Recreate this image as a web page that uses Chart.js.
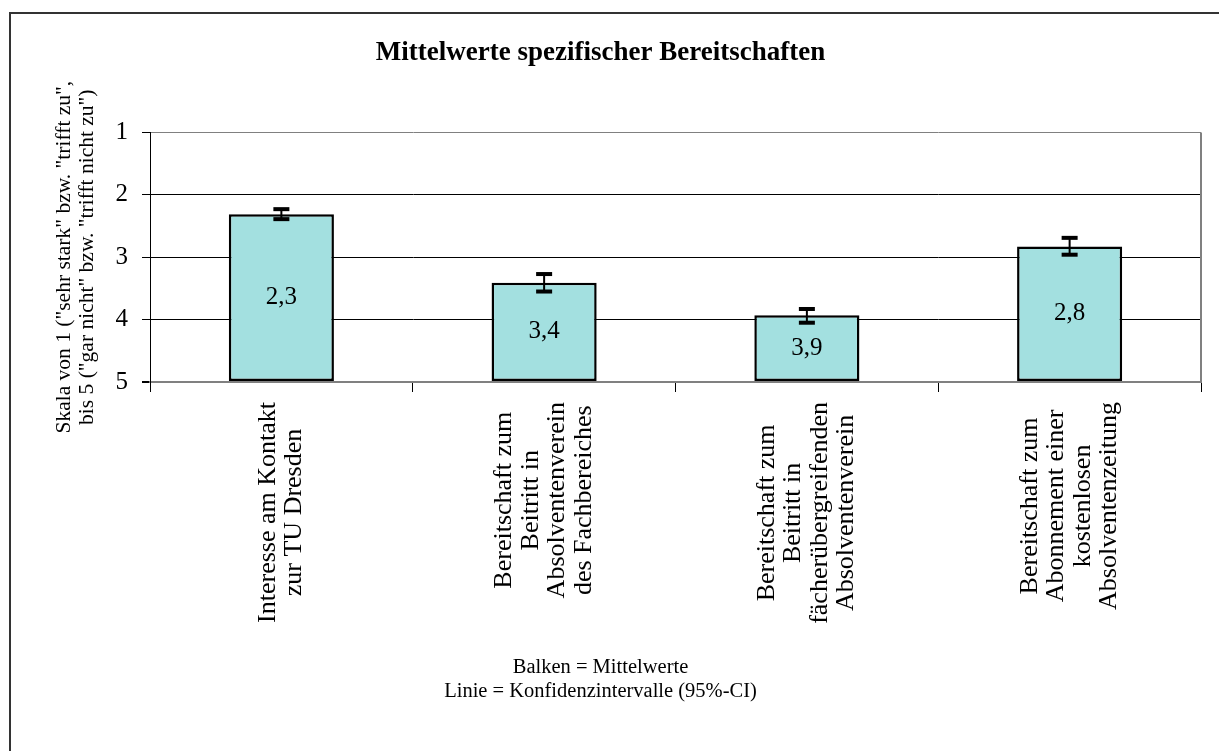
<!DOCTYPE html>
<html>
<head>
<meta charset="utf-8">
<script src="https://cdn.jsdelivr.net/npm/chart.js@4.4.0/dist/chart.umd.min.js"></script>
<style>
html, body { margin: 0; padding: 0; background: #fff; }
#wrap { width: 1219px; height: 751px; }
</style>
</head>
<body>
<div id="wrap"><canvas id="chart"></canvas></div>
<script>
// values
var categories = [
	["Interesse am Kontakt", "zur TU Dresden"],
	["Bereitschaft zum", "Beitritt in", "Absolventenverein", "des Fachbereiches"],
	["Bereitschaft zum", "Beitritt in", "fächerübergreifenden", "Absolventenverein"],
	["Bereitschaft zum", "Abonnement einer", "kostenlosen", "Absolventenzeitung"]
];
var means = [2.31, 3.41, 3.93, 2.83];
var ciLow = [2.23, 3.27, 3.83, 2.69];
var ciHigh = [2.39, 3.55, 4.05, 2.96];
var meanLabels = ["2,3", "3,4", "3,9", "2,8"];
var yTicks = [1, 2, 3, 4, 5];

var serif = "'Liberation Serif', 'Times New Roman', serif";

var extras = {
	id: 'extras',
	beforeDraw: function (chart) {
		var ctx = chart.ctx;
		ctx.save();
		ctx.fillStyle = '#fff';
		ctx.fillRect(0, 0, chart.width, chart.height);
		// outer frame (only left and top edge visible)
		ctx.strokeStyle = '#333';
		ctx.lineWidth = 2;
		ctx.beginPath();
		ctx.moveTo(10, chart.height + 5);
		ctx.lineTo(10, 13);
		ctx.lineTo(chart.width + 5, 13);
		ctx.stroke();
		ctx.restore();
	},
	beforeDatasetsDraw: function (chart) {
		// right edge of the plot area
		var ctx = chart.ctx, a = chart.chartArea;
		ctx.save();
		ctx.strokeStyle = '#808080';
		ctx.lineWidth = 2;
		ctx.beginPath();
		ctx.moveTo(a.right, a.top);
		ctx.lineTo(a.right, a.bottom);
		ctx.stroke();
		ctx.restore();
	},
	afterDatasetsDraw: function (chart) {
		var ctx = chart.ctx;
		var y = chart.scales.y;
		var area = chart.chartArea;
		var meta = chart.getDatasetMeta(0);
		ctx.save();
		// confidence intervals
		ctx.fillStyle = '#000';
		ctx.strokeStyle = '#000';
		for (var i = 0; i < means.length; i++) {
			var x = meta.data[i].x;
			var yl = y.getPixelForValue(ciLow[i]);
			var yh = y.getPixelForValue(ciHigh[i]);
			ctx.lineWidth = 2;
			ctx.beginPath();
			ctx.moveTo(x, yl);
			ctx.lineTo(x, yh);
			ctx.stroke();
			ctx.fillRect(x - 8, yl - 2, 16, 4);
			ctx.fillRect(x - 8, yh - 2, 16, 4);
		}
		// mean labels inside the bars
		ctx.font = '25px ' + serif;
		ctx.textAlign = 'center';
		ctx.textBaseline = 'middle';
		for (var j = 0; j < means.length; j++) {
			var bar = meta.data[j];
			ctx.fillText(meanLabels[j], bar.x, (bar.y + bar.base) / 2);
		}
		// category labels, rotated, lines centred on each other
		ctx.font = '26px ' + serif;
		var lh = 26.5;
		for (var k = 0; k < categories.length; k++) {
			var lines = categories[k];
			var maxW = 0;
			lines.forEach(function (t) { maxW = Math.max(maxW, ctx.measureText(t).width); });
			var cx = chart.scales.x.getPixelForValue(k);
			var cy = area.bottom + 20 + maxW / 2;
			ctx.save();
			ctx.translate(cx, cy);
			ctx.rotate(-Math.PI / 2);
			for (var n = 0; n < lines.length; n++) {
				ctx.fillText(lines[n], 0, (n - (lines.length - 1) / 2) * lh);
			}
			ctx.restore();
		}
		ctx.restore();
	}
};

var ctx = document.getElementById('chart');
var myChart = new Chart(ctx, {
	type: 'bar',
	data: {
		labels: categories,
		datasets: [{
			data: means,
			base: 5,
			backgroundColor: '#a3e0e0',
			borderColor: '#000',
			borderWidth: 2.5,
			borderSkipped: false,
			categoryPercentage: 1,
			barPercentage: 0.4
		}]
	},
	options: {
		responsive: true,
		maintainAspectRatio: false,
		devicePixelRatio: 1,
		animation: false,
		layout: { padding: { left: 0, right: 18, top: 0, bottom: 0 } },
		plugins: {
			legend: { display: false },
			tooltip: { enabled: false },
			title: {
				display: true,
				text: 'Mittelwerte spezifischer Bereitschaften',
				color: '#000',
				font: { family: serif, size: 27, weight: 'bold', lineHeight: 1.2 },
				padding: { top: 37, bottom: 63 }
			},
			subtitle: {
				display: true,
				position: 'bottom',
				text: ['Balken = Mittelwerte', 'Linie = Konfidenzintervalle (95%-CI)'],
				color: '#000',
				font: { family: serif, size: 20.5, lineHeight: '24px' },
				padding: { top: 10, bottom: 47 }
			}
		},
		scales: {
			x: {
				ticks: { display: false },
				grid: {
					offset: true,
					drawOnChartArea: false,
					tickColor: function (c) { return c.index === categories.length ? '#808080' : '#000'; },
					tickLength: 10,
					lineWidth: 1
				},
				border: { display: true, color: '#808080', width: 2 },
				afterFit: function (s) { s.height = 264; }
			},
			y: {
				min: 1,
				max: 5,
				reverse: true,
				afterBuildTicks: function (s) { s.ticks = yTicks.map(function (v) { return { value: v }; }); },
				ticks: {
					color: '#000',
					padding: 14,
					font: { family: serif, size: 25 }
				},
				grid: {
					color: function (c) { return (c.tick && (c.tick.value === 1 || c.tick.value === 5)) ? '#808080' : '#000'; },
					lineWidth: function (c) { return (c.tick && c.tick.value === 5) ? 2 : 1; },
					tickColor: '#000',
					tickLength: 8
				},
				border: { display: true, color: '#000', width: 1 },
				title: {
					display: true,
					text: ['Skala von 1 ("sehr stark" bzw. "trifft zu",', 'bis 5 ("gar nicht" bzw. "trifft nicht zu")'],
					color: '#000',
					font: { family: serif, size: 21.5, lineHeight: '23px' },
					padding: { top: 53, bottom: 0 }
				},
				afterFit: function (s) { s.width = 150; }
			}
		}
	},
	plugins: [extras]
});
</script>
</body>
</html>
